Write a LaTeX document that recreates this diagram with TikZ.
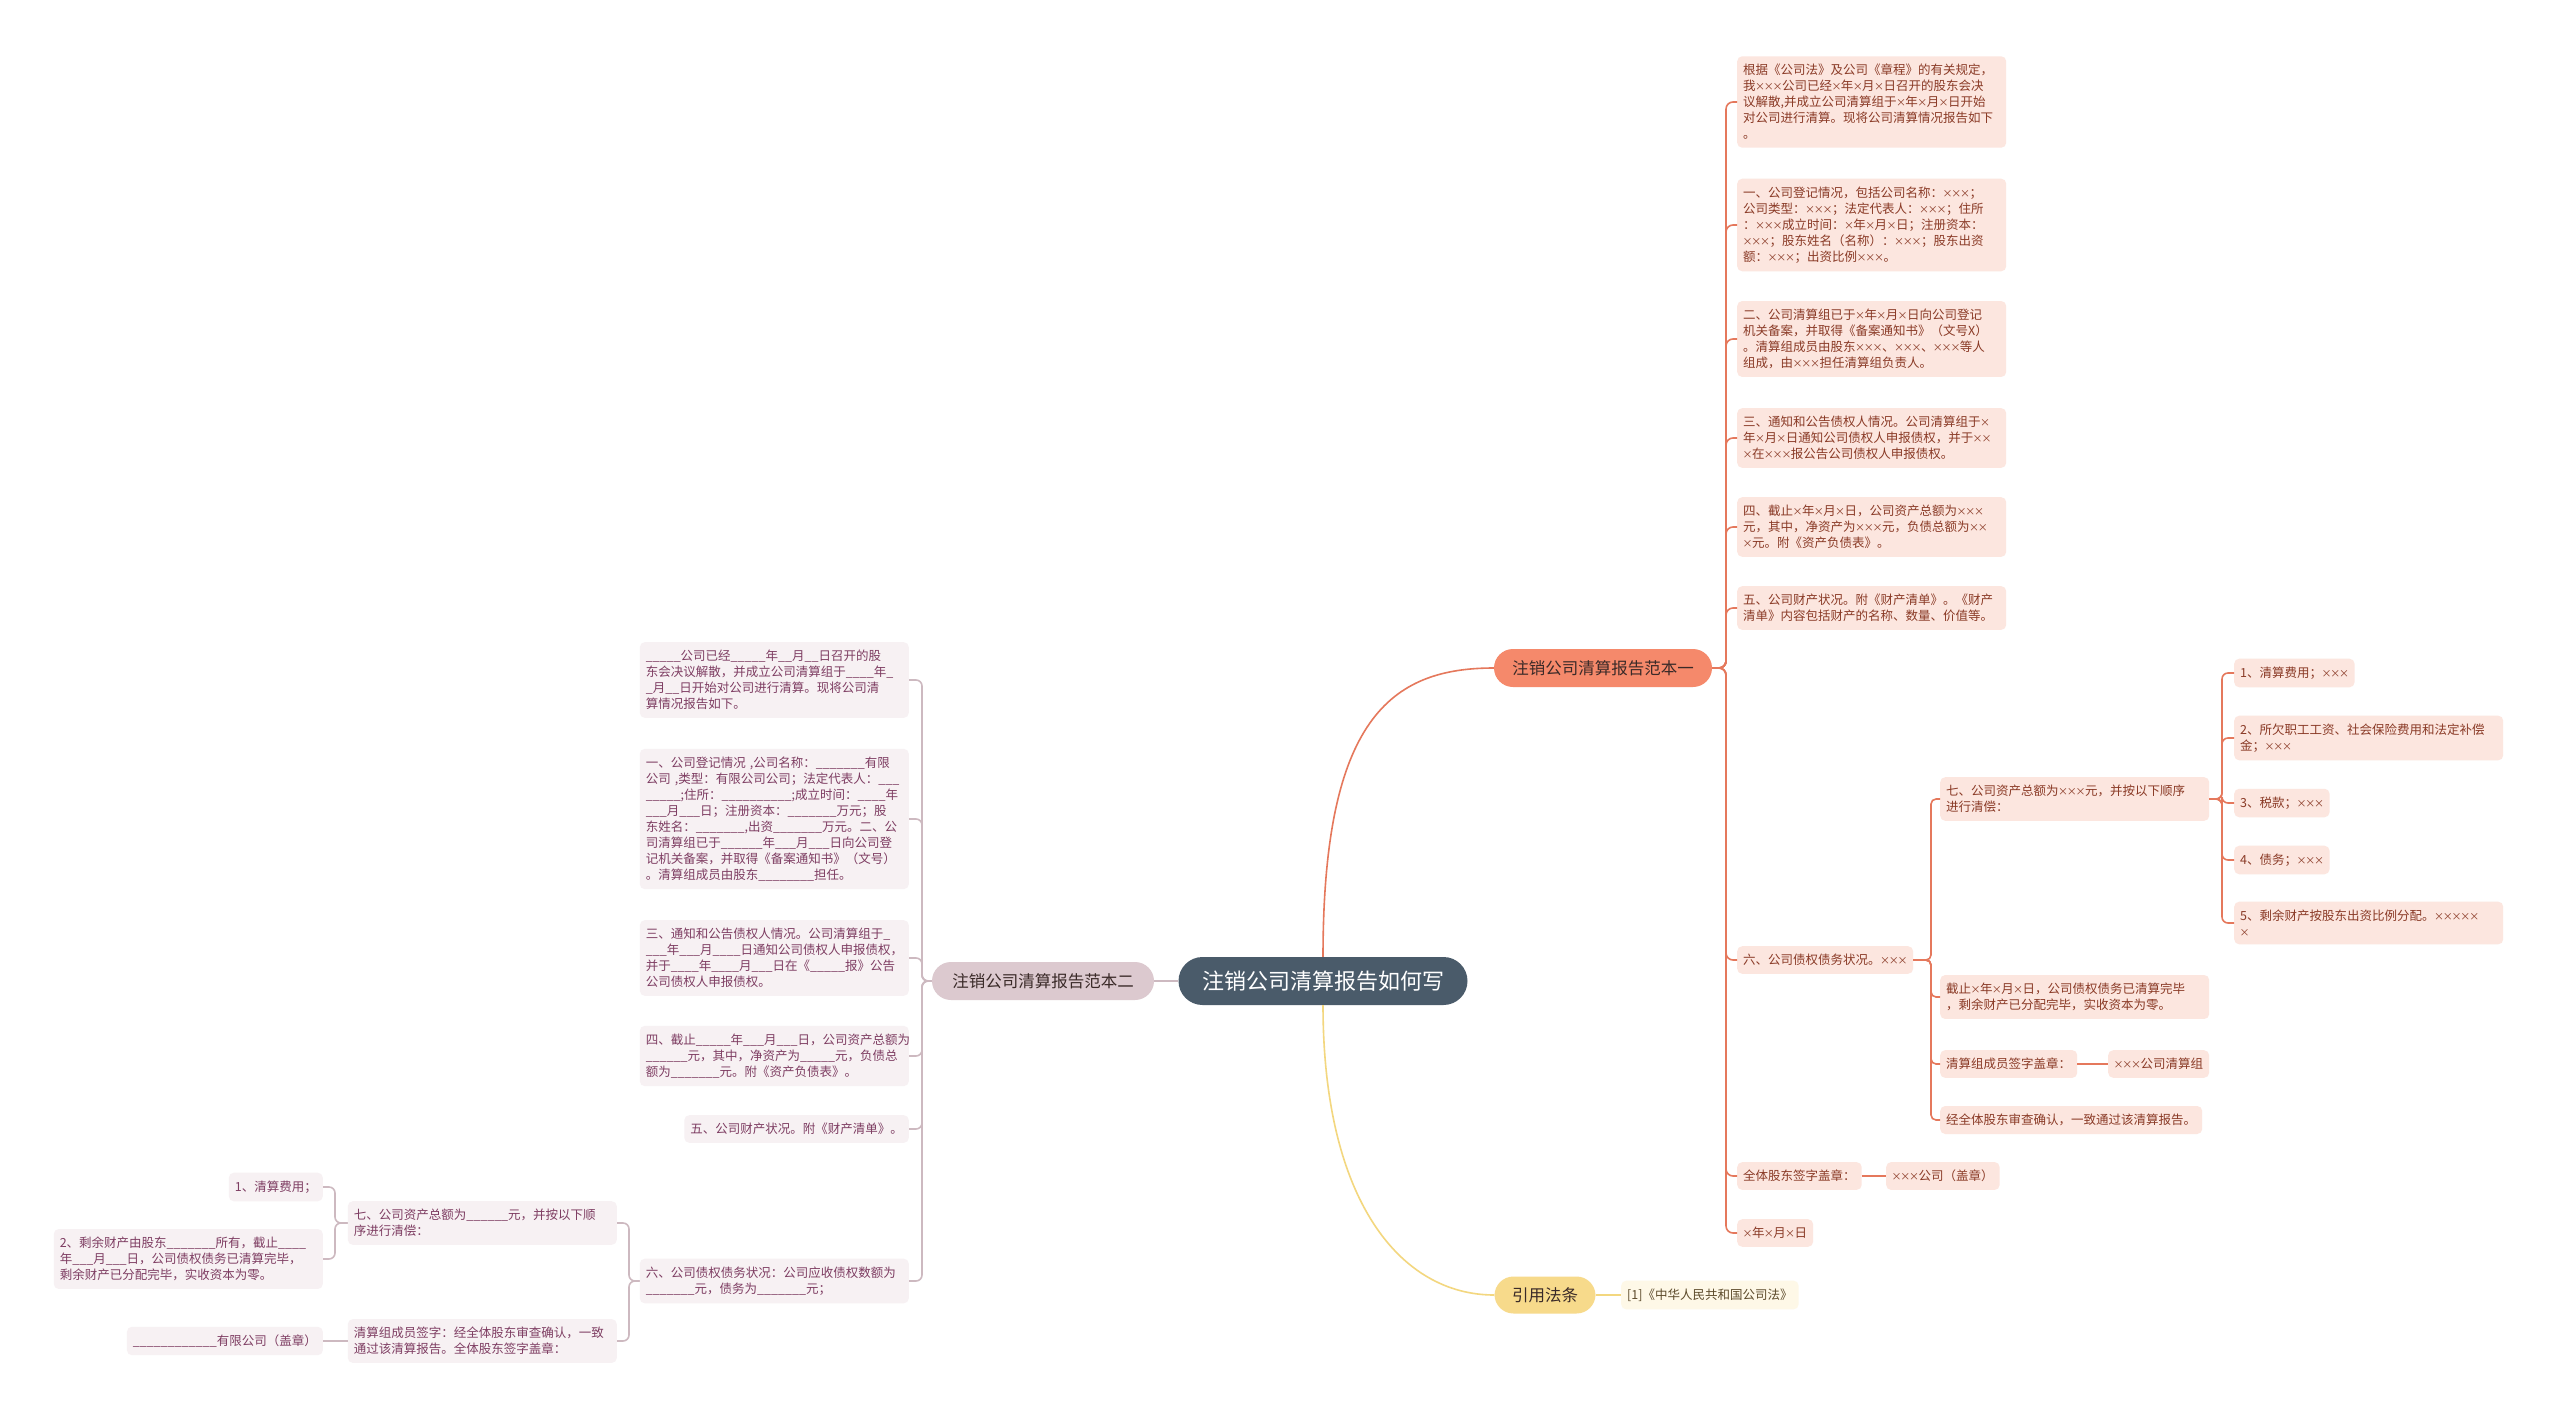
\documentclass[tikz,border=0pt]{standalone}
\usepackage{fontspec}
\setmainfont{Noto Sans CJK SC}
\ExplSyntaxOn
\cs_new:Npn \ulx #1 {\prg_replicate:nn{#1}{\textunderscore}}
\ExplSyntaxOff
\catcode`\×=\active
\def×{\makebox[8.8pt]{\fontsize{10pt}{12pt}\selectfont\char"00D7\relax}}
\newcommand\fsm{\fontsize{12.5pt}{16pt}\selectfont}
\definecolor{centerfill}{HTML}{4A5B6A}
\definecolor{bonefill}{HTML}{F5896B}
\definecolor{boneline}{HTML}{E5785C}
\definecolor{rfill}{HTML}{FCE6DF}
\definecolor{rtext}{HTML}{8A3A26}
\definecolor{btwofill}{HTML}{DCC9CF}
\definecolor{btwoline}{HTML}{CDB9C0}
\definecolor{lfill}{HTML}{F7F1F3}
\definecolor{ltext}{HTML}{7E3D62}
\definecolor{bthreefill}{HTML}{F7DA8B}
\definecolor{bthreeline}{HTML}{F3D77F}
\definecolor{yfill}{HTML}{FEF8E7}
\definecolor{ytext}{HTML}{5C4A2A}
\definecolor{btext}{HTML}{3A2A28}
\tikzset{
  leaf/.style={rectangle, rounded corners=5pt, inner xsep=6pt, inner ysep=8pt,
    minimum height=27pt, font=\fsm, align=left},
  rbox/.style={leaf, fill=rfill, text=rtext, anchor=west},
  rboxw/.style={rbox, text width=257pt},
  lbox/.style={leaf, fill=lfill, text=ltext, anchor=east},
  lboxw/.style={lbox, text width=257pt},
  ybox/.style={leaf, fill=yfill, text=ytext, anchor=west},
  centerbox/.style={rectangle, rounded corners=24pt, fill=centerfill, text=white,
    minimum width=289pt, minimum height=48pt, inner sep=0pt,
    font=\fontsize{22pt}{26pt}\selectfont},
  branchbox/.style={rectangle, rounded corners=19pt, minimum height=38pt, inner sep=0pt,
    text=btext, font=\fontsize{16.5pt}{20pt}\selectfont},
  conone/.style={draw=boneline, line width=1.6pt},
  contwo/.style={draw=btwoline, line width=1.6pt},
  conthree/.style={draw=bthreeline, line width=1.6pt},
}
\begin{document}
\begin{tikzpicture}[x=1pt,y=-1pt]
\fill[white] (0,0) rectangle (2560,1419);
\useasboundingbox (0,0) rectangle (2560,1419);

% main nodes
\node[centerbox] (C) at (1323,981) {注销公司清算报告如何写};
\node[branchbox, fill=bonefill, minimum width=218pt] (B1) at (1603,668) {注销公司清算报告范本一};
\node[branchbox, fill=btwofill, minimum width=222pt] (B2) at (1043,981) {注销公司清算报告范本二};
\node[branchbox, fill=bthreefill, minimum width=101pt, minimum height=37pt] (B3) at (1545,1295) {引用法条};
\node[ybox] (Y1) at (1621,1295) {[1]《中华人民共和国公司法》};

% branch one children
\node[rboxw] (R1) at (1737,102) {根据《公司法》及公司《章程》的有关规定，\\我×××公司已经×年×月×日召开的股东会决\\议解散,并成立公司清算组于×年×月×日开始\\对公司进行清算。现将公司清算情况报告如下\\。};
\node[rboxw] (R2) at (1737,225) {一、公司登记情况，包括公司名称：×××；\\公司类型：×××；法定代表人：×××；住所\\：×××成立时间：×年×月×日；注册资本：\\×××；股东姓名（名称）：×××；股东出资\\额：×××；出资比例×××。};
\node[rboxw] (R3) at (1737,339) {二、公司清算组已于×年×月×日向公司登记\\机关备案，并取得《备案通知书》（文号X）\\。清算组成员由股东×××、×××、×××等人\\组成，由×××担任清算组负责人。};
\node[rboxw] (R4) at (1737,438) {三、通知和公告债权人情况。公司清算组于×\\年×月×日通知公司债权人申报债权，并于××\\×在×××报公告公司债权人申报债权。};
\node[rboxw] (R5) at (1737,527) {四、截止×年×月×日，公司资产总额为×××\\元，其中，净资产为×××元，负债总额为××\\×元。附《资产负债表》。};
\node[rboxw] (R6) at (1737,608) {五、公司财产状况。附《财产清单》。《财产\\清单》内容包括财产的名称、数量、价值等。};
\node[rbox] (R7) at (1737,960) {六、公司债权债务状况。×××};
\node[rbox] (R8) at (1737,1176) {全体股东签字盖章：};
\node[rbox] (R9) at (1737,1233) {×年×月×日};
\node[rbox] (R8a) at (1886,1176) {×××公司（盖章）};

\node[rboxw] (R7a) at (1940,799) {七、公司资产总额为×××元，并按以下顺序\\进行清偿：};
\node[rboxw] (R7b) at (1940,997) {截止×年×月×日，公司债权债务已清算完毕\\，剩余财产已分配完毕，实收资本为零。};
\node[rbox] (R7c) at (1940,1064) {清算组成员签字盖章：};
\node[rbox] (R7d) at (1940,1120) {经全体股东审查确认，一致通过该清算报告。};
\node[rbox] (R7c1) at (2108,1064) {×××公司清算组};

\node[rbox] (S1) at (2234,673) {1、清算费用；×××};
\node[rboxw] (S2) at (2234,738) {2、所欠职工工资、社会保险费用和法定补偿\\金；×××};
\node[rbox] (S3) at (2234,803) {3、税款；×××};
\node[rbox] (S4) at (2234,860) {4、债务；×××};
\node[rboxw] (S5) at (2234,923) {5、剩余财产按股东出资比例分配。×××××\\×};

% branch two children
\node[lboxw] (L1) at (909,680) {\ulx{5}公司已经\ulx{5}年\ulx{2}月\ulx{2}日召开的股\\东会决议解散，并成立公司清算组于\ulx{4}年\ulx{1}\\\ulx{1}月\ulx{2}日开始对公司进行清算。现将公司清\\算情况报告如下。};
\node[lboxw] (L2) at (909,819) {一、公司登记情况 ,公司名称：\ulx{7}有限\\公司 ,类型：有限公司公司；法定代表人：\ulx{3}\\\ulx{5};住所：\ulx{10};成立时间：\ulx{4}年\\\ulx{3}月\ulx{3}日；注册资本：\ulx{7}万元；股\\东姓名：\ulx{7},出资\ulx{7}万元。二、公\\司清算组已于\ulx{6}年\ulx{3}月\ulx{3}日向公司登\\记机关备案，并取得《备案通知书》（文号）\\。清算组成员由股东\ulx{8}担任。};
\node[lboxw] (L3) at (909,958) {三、通知和公告债权人情况。公司清算组于\ulx{1}\\\ulx{3}年\ulx{3}月\ulx{4}日通知公司债权人申报债权，\\并于\ulx{4}年\ulx{4}月\ulx{3}日在《\ulx{5}报》公告\\公司债权人申报债权。};
\node[lboxw] (L4) at (909,1056) {四、截止\ulx{5}年\ulx{3}月\ulx{3}日，公司资产总额为\\\ulx{6}元，其中，净资产为\ulx{5}元，负债总\\额为\ulx{7}元。附《资产负债表》。};
\node[lbox] (L5) at (909,1129) {五、公司财产状况。附《财产清单》。};
\node[lboxw] (L6) at (909,1281) {六、公司债权债务状况：公司应收债权数额为\\\ulx{7}元，债务为\ulx{7}元；};

\node[lboxw] (L6a) at (617,1223) {七、公司资产总额为\ulx{6}元，并按以下顺\\序进行清偿：};
\node[lboxw] (L6b) at (617,1341) {清算组成员签字：经全体股东审查确认，一致\\通过该清算报告。全体股东签字盖章：};
\node[lbox] (L6a1) at (323,1187) {1、清算费用；};
\node[lboxw] (L6a2) at (323,1259) {2、剩余财产由股东\ulx{7}所有，截止\ulx{4}\\年\ulx{3}月\ulx{3}日，公司债权债务已清算完毕，\\剩余财产已分配完毕，实收资本为零。};
\node[lbox] (L6b1) at (323,1341) {\ulx{12}有限公司（盖章）};

% connectors from the centre
\draw[conone] (C.north) .. controls (1323,720) and (1390,668) .. (B1.west);
\draw[contwo] (C.west) -- (B2.east);
\draw[conthree] (C.south) .. controls (1323,1200) and (1400,1295) .. (B3.west);
\draw[conthree] (B3.east) -- (Y1.west);

% branch one connectors
\foreach \n in {R1,R2,R3,R4,R5,R6,R7,R8,R9}
  \draw[conone, rounded corners=7pt] (B1.east) -- (1726,668) |- (\n.west);
\foreach \n in {R7a,R7b,R7c,R7d}
  \draw[conone, rounded corners=5pt] (R7.east) -- (1931,960) |- (\n.west);
\foreach \n in {S1,S2,S3,S4,S5}
  \draw[conone, rounded corners=6pt] (R7a.east) -- (2222,799) |- (\n.west);
\draw[conone] (R7c.east) -- (R7c1.west);
\draw[conone] (R8.east) -- (R8a.west);

% branch two connectors
\foreach \n in {L1,L2,L3,L4,L5,L6}
  \draw[contwo, rounded corners=6pt] (B2.west) -- (922,981) |- (\n.east);
\foreach \n in {L6a,L6b}
  \draw[contwo, rounded corners=6pt] (L6.west) -- (629,1281) |- (\n.east);
\foreach \n in {L6a1,L6a2}
  \draw[contwo, rounded corners=6pt] (L6a.west) -- (335,1223) |- (\n.east);
\draw[contwo] (L6b.west) -- (L6b1.east);
\end{tikzpicture}
\end{document}
